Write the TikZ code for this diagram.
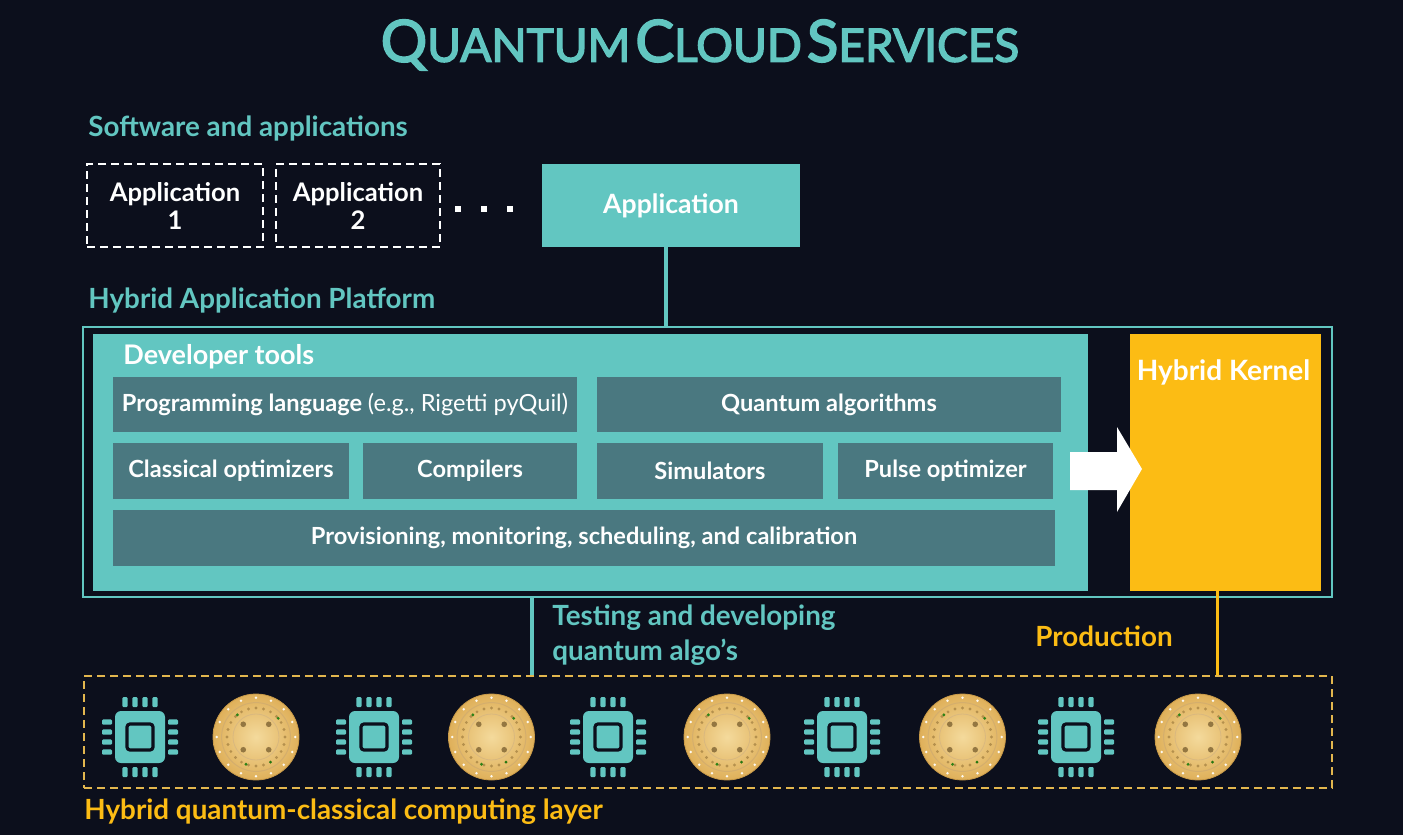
\documentclass[tikz,border=0pt]{standalone}
\usepackage{fontspec}
\setmainfont{Lato}
\newfontfamily\titlefont[FakeBold=3]{Lato}
\usetikzlibrary{positioning}

\definecolor{bgnavy}{HTML}{0C0F1C}
\definecolor{qteal}{HTML}{62C6C1}
\definecolor{slate}{HTML}{4A7880}
\definecolor{kgold}{HTML}{FCBC14}
\definecolor{dashgold}{HTML}{E2B64E}
\definecolor{diskhi}{HTML}{F4DA9C}
\definecolor{disklo}{HTML}{DFB05A}
\definecolor{diskrim}{HTML}{C99A48}

% title letters: large first letter, smaller rest
\newcommand\titleword[2]{{\fontsize{29}{29}\selectfont #1}{\fontsize{23}{23}\selectfont #2}}

\tikzset{
  head/.style={anchor=west, inner sep=0pt, text=qteal, font=\bfseries\fontsize{13.9}{17.5}\selectfont},
  appbox/.style={draw=white, line width=0.8pt, dash pattern=on 4pt off 2.5pt, text=white, align=center,
    minimum height=41.5pt, font=\bfseries\fontsize{12.8}{14}\selectfont},
  toolbox/.style={fill=slate, text=white, inner sep=0pt, font=\bfseries\fontsize{11.8}{13}\selectfont},
  % classical processor icon
  cpu/.pic={
    \fill[qteal, rounded corners=3pt] (-25,-26) rectangle (25,26);
    \draw[bgnavy, line width=1.6pt, rounded corners=1.5pt] (-13,-13) rectangle (13,13);
    \foreach \p in {-15,-5,5,15} {
      \fill[qteal, rounded corners=0.6pt] (\p-2.7,-30) rectangle (\p+2.7,-40);
      \fill[qteal, rounded corners=0.6pt] (\p-2.7,30) rectangle (\p+2.7,40);
      \fill[qteal, rounded corners=0.6pt] (-28,\p-2.7) rectangle (-38,\p+2.7);
      \fill[qteal, rounded corners=0.6pt] (28,\p-2.7) rectangle (38,\p+2.7);
    }
  },
  % quantum chip disk
  qpu/.pic={
    \shade[inner color=diskhi, outer color=disklo] (0,0) circle (21.5pt);
    \draw[diskrim, line width=0.4pt] (0,0) circle (21.5pt);
    \foreach \a in {0,22.5,...,337.5} \fill[white!85!diskhi] (\a:19.6pt) circle (0.7pt);
    \draw[diskrim!80, line width=0.5pt] (0,0) circle (17.2pt);
    \foreach \a in {0,15,...,345} \fill[diskrim!70!black, opacity=0.55] (\a:14.5pt) circle (0.8pt);
    \foreach \a in {40,130,250,300} \fill[green!45!black, opacity=0.8] (\a:14.5pt) circle (0.8pt);
    \draw[diskrim!70, line width=0.4pt] (0,0) circle (11.5pt);
    \foreach \a in {45,135,225,315} \fill[diskrim!55!black, opacity=0.7] (\a:9pt) circle (1.4pt);
  }
}

\begin{document}
\begin{tikzpicture}[x=0.5pt, y=-0.5pt]
% background
\fill[bgnavy] (0,0) rectangle (1403,835);
\useasboundingbox (0,0) rectangle (1403,835);

% title
\node[text=qteal, inner sep=0pt, font=\titlefont] (title) at (700,45)
  {\titleword{Q}{UANTUM} \titleword{C}{LOUD} \titleword{S}{ERVICES}};

% Software and applications
\node[head] (swlabel) at (88,128) {Software and applications};
\node[appbox, minimum width=88pt] (app1) at (175,205.5) {Application\\1};
\node[appbox, minimum width=82pt] (app2) at (358,205.5) {Application\\2};
\foreach \d in {458,484,510} \fill[white] (\d-3,206) rectangle (\d+3,212);
\node[fill=qteal, text=white, minimum width=129pt, minimum height=41.5pt,
  font=\bfseries\fontsize{13.3}{15}\selectfont] (app) at (671,205.5) {Application};

% Hybrid Application Platform
\node[head] (hlabel) at (88,300) {Hybrid Application Platform};
\node[draw=qteal, line width=1pt, minimum width=624.5pt, minimum height=135pt] (platform) at (707.5,462) {};
\node[fill=qteal, minimum width=497.5pt, minimum height=128.5pt] (devtools) at (590.5,462.5) {};
\node[anchor=west, inner sep=0pt, text=white, font=\bfseries\fontsize{13.5}{16}\selectfont] (devlabel) at (123,357) {Developer tools};

\node[toolbox, minimum width=232pt, minimum height=27.5pt] (prog) at (345,404.5)
  {Programming language {\mdseries(e.g., Rigetti pyQuil)}};
\node[toolbox, minimum width=232pt, minimum height=27.5pt] (qalg) at (829,404.5) {Quantum algorithms};
\node[toolbox, minimum width=118pt, minimum height=28pt] (classic) at (231,471) {Classical optimizers};
\node[toolbox, minimum width=107pt, minimum height=28pt] (compilers) at (470,471) {Compilers};
\node[toolbox, minimum width=113pt, minimum height=28pt] (sim) at (710,471) {Simulators};
\node[toolbox, minimum width=107.5pt, minimum height=28pt] (pulse) at (945.5,471) {Pulse optimizer};
\node[toolbox, minimum width=471pt, minimum height=28pt] (prov) at (584,538)
  {Provisioning, monitoring, scheduling, and calibration};

% Hybrid Kernel
\node[fill=kgold, minimum width=95.5pt, minimum height=128.5pt] (kernel) at (1225.5,462.5) {};
\node[below=13pt of kernel.north, xshift=-1pt, inner sep=0pt, text=white, font=\bfseries\fontsize{14}{16}\selectfont] (klabel) {Hybrid Kernel};
\fill[white] (1070,452) -- (1117,452) -- (1117,427) -- (1142,469) -- (1117,512) -- (1117,490) -- (1070,490) -- cycle;

% computing layer
\node[draw=dashgold, line width=1pt, dash pattern=on 4pt off 2.5pt, minimum width=624pt, minimum height=56pt] (layer) at (708,732) {};
\foreach \i in {0,...,4} {
  \pic at (140+234*\i,737) {cpu};
  \pic at (256+235.5*\i,737) {qpu};
}

% links
\draw[qteal, line width=2pt] ([xshift=-2.5pt]app.south) -- ([xshift=-2.5pt]app.south |- platform.north);
\coordinate (devtap) at (532,597);
\draw[qteal, line width=2pt] (devtap) -- (devtap |- layer.north);
\draw[kgold, line width=1.5pt] ([xshift=-4pt]kernel.south) -- ([xshift=-4pt]kernel.south |- layer.north);

\node[head, align=left] (testlabel) at (552,635) {Testing and developing\\quantum algo's};
\node[head, text=kgold] (prodlabel) at (1035,636) {Production};
\node[head, text=kgold] (layerlabel) at (84,812) {Hybrid quantum-classical computing layer};
\end{tikzpicture}
\end{document}
